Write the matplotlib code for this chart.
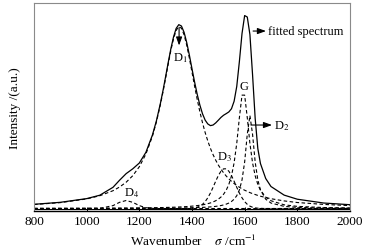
import matplotlib
matplotlib.use("Agg")
from matplotlib import pyplot as plt

plt.rcParams['font.family'] = ['Liberation Serif', 'DejaVu Serif']
plt.rcParams['mathtext.fontset'] = 'stix'

# 拉曼光谱拟合数据
wavenumber = [800, 900, 1000, 1050, 1100, 1125, 1150, 1175, 1200, 1225,
              1250, 1265, 1280, 1290, 1300, 1310, 1320, 1330, 1340, 1350,
              1360, 1370, 1380, 1390, 1400, 1410, 1420, 1430, 1440, 1450,
              1460, 1470, 1480, 1490, 1500, 1510, 1520, 1530, 1540, 1550,
              1560, 1570, 1580, 1590, 1600, 1610, 1620, 1630, 1640, 1650,
              1660, 1680, 1700, 1750, 1800, 1900, 2000]

fitted = [4.2, 6.2, 9.9, 13.3, 21.2, 28.3, 34.9, 39.7, 45.5, 56.2,
          73.7, 87.8, 105.1, 118.1, 132.1, 146.4, 160.1, 171.7, 180.2, 183.9,
          182.5, 176.2, 166.0, 153.5, 139.8, 126.4, 114.0, 103.4, 94.7, 88.4,
          84.6, 82.9, 83.5, 85.6, 88.3, 91.1, 93.3, 94.9, 96.6, 99.8,
          107.3, 122.1, 147.0, 175.0, 193.0, 191.5, 174.0, 134.0, 90.0, 60.0,
          45.0, 30.0, 22.0, 13.4, 9.3, 5.5, 3.8]

band_D1 = [4.0, 5.9, 9.6, 12.8, 17.8, 21.5, 26.3, 32.8, 41.8, 54.5,
           72.5, 86.7, 103.9, 116.8, 130.7, 144.9, 158.5, 170.0, 178.3, 181.9,
           180.3, 173.8, 163.4, 150.5, 136.4, 122.3, 108.9, 96.7, 85.7, 76.0,
           67.6, 60.2, 53.9, 48.4, 43.5, 39.4, 35.7, 32.5, 29.7, 27.2,
           25.0, 23.0, 21.3, 19.7, 18.3, 17.1, 15.9, 14.9, 14.0, 13.1,
           12.3, 11.0, 9.8, 7.6, 6.0, 4.1, 2.9]

band_G = [0.15, 0.19, 0.26, 0.31, 0.37, 0.41, 0.46, 0.52, 0.59, 0.67,
          0.77, 0.84, 0.92, 0.98, 1.05, 1.12, 1.2, 1.29, 1.39, 1.51,
          1.64, 1.78, 1.95, 2.14, 2.36, 2.62, 2.92, 3.27, 3.7, 4.2,
          4.83, 5.59, 6.55, 7.77, 9.35, 11.45, 14.3, 18.3, 24.1, 32.7,
          45.7, 65.1, 90.9, 113.4, 113.4, 90.9, 65.1, 45.7, 32.7, 24.1,
          18.3, 11.45, 7.77, 3.7, 2.14, 0.98, 0.56]

band_D2 = [0.06, 0.07, 0.1, 0.11, 0.14, 0.15, 0.17, 0.19, 0.21, 0.24,
           0.27, 0.29, 0.32, 0.34, 0.36, 0.39, 0.41, 0.44, 0.47, 0.51,
           0.55, 0.59, 0.64, 0.70, 0.76, 0.84, 0.92, 1.02, 1.13, 1.27,
           1.43, 1.62, 1.86, 2.15, 2.51, 2.97, 3.58, 4.37, 5.47, 7.02,
           9.3, 12.8, 18.6, 28.6, 46.5, 74.4, 93.0, 74.4, 46.5, 28.6,
           18.6, 9.3, 5.47, 2.15, 1.13, 0.47, 0.26]

band_D3 = [0, 0, 0, 0, 0, 0, 0, 0, 0, 0,
           0, 0, 0, 0, 0, 0, 0, 0, 0, 0,
           0, 0, 0, 0.13, 0.3, 0.64, 1.28, 2.38, 4.18, 6.9,
           10.7, 15.5, 21.2, 27.3, 32.9, 37.3, 39.7, 39.7, 37.3, 32.9,
           27.3, 21.2, 15.5, 10.7, 6.9, 4.18, 2.38, 1.28, 0.64, 0.3,
           0.13, 0, 0, 0, 0, 0, 0]

band_D4 = [0, 0, 0, 0.14, 2.9, 6.2, 8.0, 6.2, 2.9, 0.81,
           0.14, 0, 0, 0, 0, 0, 0, 0, 0, 0,
           0, 0, 0, 0, 0, 0, 0, 0, 0, 0,
           0, 0, 0, 0, 0, 0, 0, 0, 0, 0,
           0, 0, 0, 0, 0, 0, 0, 0, 0, 0,
           0, 0, 0, 0, 0, 0, 0]

fig = plt.figure(figsize=(3.68, 2.53), dpi=100)
ax = fig.add_axes([0.0924, 0.162, 0.8586, 0.822])

dash = (0, (3.2, 2.2))
for band in [band_D1, band_G, band_D2, band_D3, band_D4]:
    ax.plot(wavenumber, band, color='black', lw=0.8, linestyle=dash)
ax.plot(wavenumber, fitted, color='black', lw=0.9)
ax.axhline(0, color='black', lw=0.8)

ax.set_xlim(800, 2000)
ax.set_ylim(-2.5, 205.5)
ax.set_xticks([800, 1000, 1200, 1400, 1600, 1800, 2000])
ax.set_yticks([])
ax.tick_params(axis='x', direction='in', length=3, width=0.7, labelsize=9.5, pad=3)
for side in ['top', 'left', 'right']:
    ax.spines[side].set_color('#8a8a8a')
    ax.spines[side].set_linewidth(0.8)
ax.spines['bottom'].set_linewidth(1.0)

ax.set_xlabel(r'Wavenumber    $\sigma$ /cm$^{-1}$', fontsize=9.5)
ax.set_ylabel('Intensity /(a.u.)', fontsize=9.5)
ax.xaxis.set_label_coords(0.503, -0.103)
ax.yaxis.set_label_coords(-0.04, 0.5)

arrow = dict(arrowstyle='-|>,head_length=0.5,head_width=0.18', color='black', lw=0.8,
             shrinkA=0, shrinkB=0)
ax.annotate('', xy=(1681, 177.5), xytext=(1632, 177.5), arrowprops=arrow)
ax.text(1689, 177.5, 'fitted spectrum', fontsize=9, ha='left', va='center')
ax.annotate('', xy=(1351, 163), xytext=(1351, 181), arrowprops=arrow)
ax.text(1354, 151.5, 'D$_1$', fontsize=9, ha='center', va='center')
ax.text(1597, 122.5, 'G', fontsize=9, ha='center', va='center')
ax.annotate('', xy=(1704, 83.5), xytext=(1624, 83.5), arrowprops=arrow)
ax.text(1711, 83.5, 'D$_2$', fontsize=9, ha='left', va='center')
ax.text(1525, 52.5, 'D$_3$', fontsize=9, ha='center', va='center')
ax.text(1172, 16.5, 'D$_4$', fontsize=9, ha='center', va='center')

fig.savefig('out.png', dpi=100)
